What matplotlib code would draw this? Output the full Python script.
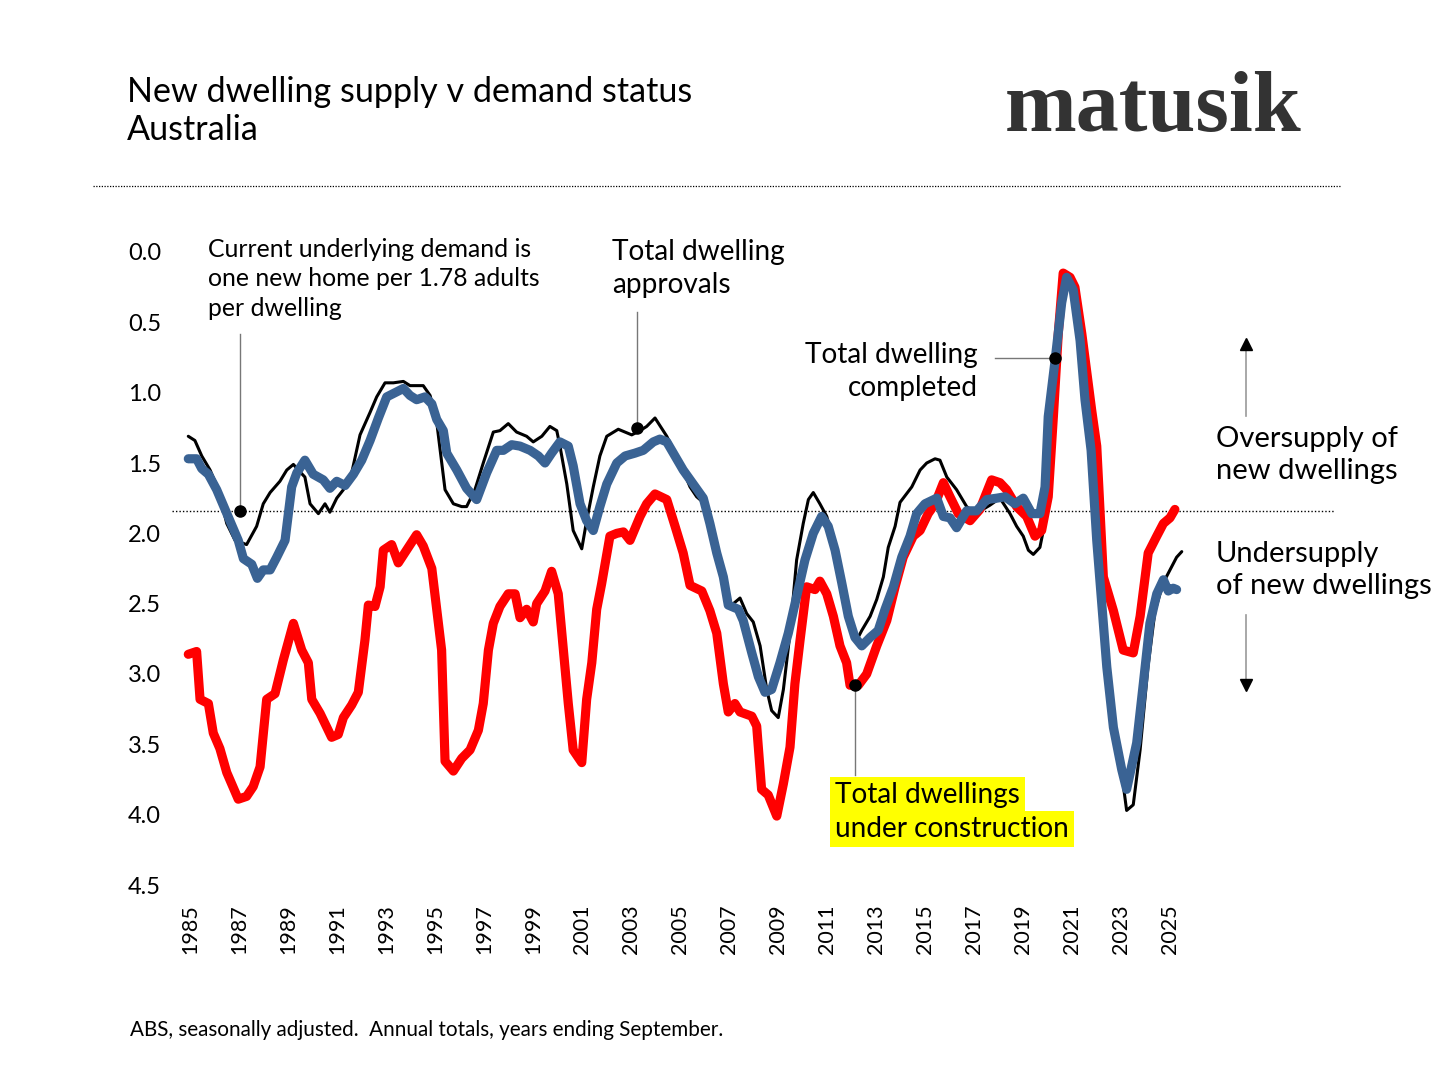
import matplotlib
matplotlib.use("Agg")
import matplotlib.pyplot as plt
from matplotlib.lines import Line2D
import numpy as np

plt.rcParams['font.family'] = ['Lato', 'DejaVu Sans']

# ---------------- data ----------------
years_labels = list(range(1985, 2026, 2))
y_ticks = [0.0, 0.5, 1.0, 1.5, 2.0, 2.5, 3.0, 3.5, 4.0, 4.5]
demand_level = 1.84

construction_x = [1984.93, 1985.27, 1985.41, 1985.75, 1985.95, 1986.22, 1986.50, 1986.97, 1987.31, 1987.58,
                  1987.86, 1988.13, 1988.47, 1988.81, 1989.22, 1989.56, 1989.83, 1989.97, 1990.31, 1990.78,
                  1991.05, 1991.26, 1991.60, 1991.87, 1992.14, 1992.28, 1992.55, 1992.76, 1992.89, 1993.23,
                  1993.50, 1994.25, 1994.52, 1994.87, 1995.27, 1995.41, 1995.75, 1996.09, 1996.43, 1996.77,
                  1996.97, 1997.18, 1997.38, 1997.65, 1997.99, 1998.27, 1998.47, 1998.74, 1999.01, 1999.15,
                  1999.49, 1999.76, 2000.03, 2000.24, 2000.44, 2000.64, 2000.99, 2001.19, 2001.40, 2001.60,
                  2001.80, 2002.14, 2002.42, 2002.69, 2002.96, 2003.37, 2003.64, 2003.98, 2004.46, 2004.80,
                  2005.13, 2005.41, 2005.89, 2006.22, 2006.50, 2006.77, 2006.97, 2007.24, 2007.45, 2007.93,
                  2008.13, 2008.33, 2008.60, 2008.95, 2009.22, 2009.49, 2009.69, 2009.90, 2010.17, 2010.51,
                  2010.71, 2010.99, 2011.26, 2011.53, 2011.80, 2011.94, 2012.28, 2012.62, 2013.03, 2013.44,
                  2013.78, 2014.11, 2014.52, 2014.80, 2015.13, 2015.41, 2015.75, 2016.02, 2016.36, 2016.84,
                  2017.24, 2017.72, 2018.06, 2018.33, 2018.74, 2019.15, 2019.49, 2019.76, 2020.03, 2020.24,
                  2020.44, 2020.64, 2020.92, 2021.12, 2021.40, 2021.80, 2022.01, 2022.28, 2022.69, 2023.09,
                  2023.50, 2023.78, 2024.11, 2024.46, 2024.73, 2025.00, 2025.20]
construction_y = [2.86, 2.84, 3.18, 3.21, 3.42, 3.53, 3.70, 3.89, 3.87, 3.80,
                  3.66, 3.18, 3.14, 2.90, 2.64, 2.83, 2.92, 3.18, 3.28, 3.45,
                  3.43, 3.31, 3.22, 3.13, 2.76, 2.51, 2.52, 2.38, 2.12, 2.08,
                  2.21, 2.01, 2.09, 2.25, 2.83, 3.62, 3.69, 3.60, 3.54, 3.40,
                  3.21, 2.83, 2.64, 2.52, 2.43, 2.43, 2.60, 2.54, 2.63, 2.50,
                  2.41, 2.27, 2.43, 2.83, 3.21, 3.54, 3.63, 3.18, 2.92, 2.54,
                  2.36, 2.02, 2.00, 1.99, 2.05, 1.88, 1.79, 1.72, 1.76, 1.95,
                  2.14, 2.37, 2.41, 2.55, 2.71, 3.07, 3.27, 3.21, 3.27, 3.30,
                  3.37, 3.82, 3.86, 4.01, 3.78, 3.52, 3.07, 2.76, 2.38, 2.40,
                  2.34, 2.43, 2.59, 2.80, 2.92, 3.08, 3.08, 3.00, 2.80, 2.62,
                  2.38, 2.17, 2.02, 1.98, 1.86, 1.79, 1.64, 1.74, 1.86, 1.91,
                  1.83, 1.62, 1.64, 1.69, 1.81, 1.88, 2.02, 1.98, 1.74, 1.17,
                  0.58, 0.15, 0.18, 0.25, 0.58, 1.12, 1.38, 2.31, 2.55, 2.83,
                  2.85, 2.59, 2.14, 2.02, 1.93, 1.89, 1.83]

completed_x = [1984.93, 1985.27, 1985.48, 1985.75, 1986.09, 1986.43, 1986.70, 1986.97, 1987.18, 1987.52,
               1987.75, 1987.99, 1988.27, 1988.54, 1988.88, 1989.15, 1989.36, 1989.69, 1990.03, 1990.44,
               1990.71, 1990.99, 1991.33, 1991.67, 1992.01, 1992.35, 1992.69, 1993.03, 1993.37, 1993.71,
               1993.98, 1994.25, 1994.59, 1994.87, 1995.07, 1995.34, 1995.48, 1995.89, 1996.29, 1996.70,
               1997.11, 1997.52, 1997.79, 1998.13, 1998.47, 1998.88, 1999.22, 1999.49, 1999.76, 2000.10,
               2000.44, 2000.64, 2000.92, 2001.19, 2001.46, 2001.73, 2002.01, 2002.42, 2002.76, 2003.16,
               2003.50, 2003.91, 2004.18, 2004.46, 2004.73, 2005.13, 2005.54, 2005.95, 2006.22, 2006.50,
               2006.77, 2006.97, 2007.38, 2007.58, 2007.93, 2008.20, 2008.47, 2008.74, 2009.08, 2009.42,
               2009.76, 2010.10, 2010.44, 2010.78, 2011.05, 2011.33, 2011.60, 2011.87, 2012.14, 2012.42,
               2012.76, 2013.09, 2013.37, 2013.71, 2014.05, 2014.39, 2014.66, 2015.00, 2015.48, 2015.75,
               2016.02, 2016.29, 2016.70, 2017.11, 2017.52, 2017.93, 2018.27, 2018.67, 2019.01, 2019.36,
               2019.69, 2019.90, 2020.03, 2020.31, 2020.58, 2020.78, 2021.05, 2021.33, 2021.53, 2021.78,
               2022.01, 2022.42, 2022.69, 2023.03, 2023.23, 2023.64, 2023.91, 2024.18, 2024.46, 2024.73,
               2024.93, 2025.13, 2025.27]
completed_y = [1.47, 1.47, 1.54, 1.58, 1.69, 1.83, 1.94, 2.05, 2.18, 2.22,
               2.32, 2.26, 2.26, 2.17, 2.05, 1.67, 1.57, 1.48, 1.58, 1.62,
               1.68, 1.63, 1.66, 1.58, 1.48, 1.34, 1.18, 1.03, 1.00, 0.97,
               1.02, 1.05, 1.03, 1.08, 1.19, 1.27, 1.43, 1.55, 1.68, 1.76,
               1.57, 1.41, 1.41, 1.37, 1.38, 1.41, 1.45, 1.50, 1.43, 1.35,
               1.38, 1.52, 1.79, 1.91, 1.98, 1.81, 1.65, 1.50, 1.45, 1.43,
               1.41, 1.35, 1.33, 1.35, 1.43, 1.55, 1.65, 1.75, 1.93, 2.14,
               2.31, 2.51, 2.54, 2.62, 2.85, 3.02, 3.13, 3.11, 2.92, 2.71,
               2.45, 2.19, 2.00, 1.88, 1.95, 2.12, 2.35, 2.59, 2.74, 2.80,
               2.74, 2.69, 2.54, 2.38, 2.17, 2.02, 1.86, 1.79, 1.75, 1.88,
               1.89, 1.96, 1.84, 1.84, 1.76, 1.75, 1.74, 1.79, 1.75, 1.86,
               1.86, 1.67, 1.17, 0.77, 0.36, 0.18, 0.27, 0.63, 1.05, 1.41,
               2.05, 2.95, 3.38, 3.68, 3.82, 3.49, 3.07, 2.64, 2.43, 2.33,
               2.41, 2.39, 2.40]

approvals_x = [1984.93, 1985.20, 1985.48, 1985.82, 1986.16, 1986.50, 1986.84, 1987.31, 1987.72, 1987.99,
               1988.27, 1988.67, 1988.95, 1989.22, 1989.42, 1989.69, 1989.90, 1990.24, 1990.51, 1990.71,
               1990.99, 1991.26, 1991.60, 1991.94, 1992.35, 1992.62, 1992.96, 1993.30, 1993.71, 1993.98,
               1994.52, 1994.80, 1995.07, 1995.41, 1995.75, 1996.09, 1996.29, 1996.63, 1996.97, 1997.38,
               1997.65, 1997.99, 1998.33, 1998.74, 1999.01, 1999.36, 1999.69, 1999.97, 2000.10, 2000.38,
               2000.64, 2000.99, 2001.19, 2001.46, 2001.73, 2002.01, 2002.48, 2003.03, 2003.37, 2003.64,
               2003.98, 2004.46, 2005.00, 2005.41, 2005.68, 2005.95, 2006.22, 2006.50, 2006.77, 2007.04,
               2007.45, 2007.72, 2007.99, 2008.27, 2008.54, 2008.74, 2009.01, 2009.22, 2009.49, 2009.76,
               2010.03, 2010.24, 2010.44, 2010.71, 2010.99, 2011.33, 2011.73, 2012.21, 2012.42, 2012.76,
               2013.03, 2013.30, 2013.50, 2013.78, 2013.98, 2014.46, 2014.80, 2015.07, 2015.41, 2015.61,
               2015.89, 2016.29, 2016.70, 2017.07, 2017.65, 2018.06, 2018.47, 2018.74, 2019.01, 2019.22,
               2019.42, 2019.69, 2019.83, 2020.02, 2020.31, 2020.59, 2020.80, 2021.04, 2021.33, 2021.53,
               2021.78, 2022.02, 2022.43, 2022.71, 2023.04, 2023.23, 2023.50, 2023.78, 2024.10, 2024.39,
               2024.73, 2025.00, 2025.27, 2025.48]
approvals_y = [1.31, 1.34, 1.45, 1.55, 1.69, 1.93, 2.05, 2.08, 1.95, 1.79,
               1.71, 1.63, 1.55, 1.51, 1.55, 1.60, 1.79, 1.86, 1.79, 1.85,
               1.75, 1.69, 1.57, 1.30, 1.14, 1.03, 0.93, 0.93, 0.92, 0.95,
               0.95, 1.02, 1.21, 1.69, 1.79, 1.81, 1.81, 1.69, 1.50, 1.28,
               1.27, 1.22, 1.28, 1.31, 1.35, 1.31, 1.24, 1.27, 1.38, 1.65,
               1.98, 2.11, 1.91, 1.67, 1.45, 1.31, 1.26, 1.30, 1.27, 1.24,
               1.18, 1.31, 1.50, 1.67, 1.74, 1.78, 1.95, 2.14, 2.35, 2.52,
               2.46, 2.57, 2.63, 2.80, 3.11, 3.26, 3.31, 3.11, 2.71, 2.19,
               1.93, 1.76, 1.71, 1.79, 1.88, 2.10, 2.45, 2.76, 2.69, 2.59,
               2.47, 2.31, 2.10, 1.95, 1.78, 1.67, 1.55, 1.50, 1.47, 1.48,
               1.60, 1.69, 1.81, 1.86, 1.80, 1.75, 1.86, 1.95, 2.02, 2.12,
               2.15, 2.10, 1.98, 1.20, 0.75, 0.33, 0.15, 0.22, 0.60, 1.03,
               1.45, 2.10, 2.95, 3.40, 3.72, 3.97, 3.93, 3.54, 2.95, 2.55,
               2.35, 2.26, 2.17, 2.13]

# annotation anchor points
ann_demand = (1987.04, demand_level)
ann_approvals = (2003.24, 1.25)
ann_completed = (2020.31, 0.75)
ann_construction = (2012.14, 3.08)

# ---------------- figure ----------------
W, H = 1456, 1091
fig = plt.figure(figsize=(W / 100, H / 100), dpi=100)
fig.patch.set_facecolor('white')

def fx(x):
    return x / W

def fy(y):
    return 1 - y / H

ax_left, ax_right, ax_top, ax_bottom = 172, 1335, 252, 885
ax = fig.add_axes([fx(ax_left), fy(ax_bottom), (ax_right - ax_left) / W, (ax_bottom - ax_top) / H])
ax.set_xlim(1985 + (ax_left - 190) / 24.5, 1985 + (ax_right - 190) / 24.5)
ax.set_ylim(4.5, 0)
for s in ax.spines.values():
    s.set_visible(False)
ax.set_yticks(y_ticks)
ax.set_yticklabels([f"{v:.1f}" for v in y_ticks], fontsize=17)
ax.set_xticks(years_labels)
ax.set_xticklabels([str(y) for y in years_labels], rotation=90, fontsize=15.5)
ax.tick_params(axis='y', length=0, pad=8)
ax.tick_params(axis='x', length=0, pad=14)
ax.set_facecolor('white')

ax.axhline(demand_level, color='black', lw=1.0, ls=(0, (1, 1.5)), zorder=1)

line_kw = dict(solid_capstyle='round', solid_joinstyle='round')
ax.plot(approvals_x, approvals_y, color='black', lw=2.2, zorder=2, **line_kw)
ax.plot(construction_x, construction_y, color='#FF0000', lw=6.6, zorder=3, **line_kw)
ax.plot(completed_x, completed_y, color='#3A6394', lw=6.6, zorder=4, **line_kw)

# annotation markers & leader lines
lead = dict(color='#777777', lw=1.0, zorder=5)
ax.plot([ann_demand[0]] * 2, [0.58, ann_demand[1]], **lead)
ax.plot([ann_approvals[0]] * 2, [0.43, ann_approvals[1]], **lead)
ax.plot([ann_completed[0] - 2.45, ann_completed[0]], [ann_completed[1]] * 2, **lead)
ax.plot([ann_construction[0]] * 2, [ann_construction[1], 3.72], **lead)
for p in (ann_demand, ann_approvals, ann_completed, ann_construction):
    ax.plot([p[0]], [p[1]], 'o', color='black', ms=8, zorder=6)

# annotation texts
fig.text(fx(208), fy(238), "Current underlying demand is\none new home per 1.78 adults\nper dwelling",
         fontsize=17.8, va='top', ha='left', linespacing=1.33)
fig.text(fx(612), fy(239), "Total dwelling\napprovals", fontsize=20.2, va='top', ha='left', linespacing=1.32)
fig.text(fx(978), fy(342), "Total dwelling\ncompleted", fontsize=20.2, va='top', ha='right', linespacing=1.32)
fig.text(fx(835), fy(795), "Total dwellings", fontsize=20.2, va='center', ha='left',
         bbox=dict(facecolor='#FFFF00', edgecolor='none', pad=3.5))
fig.text(fx(835), fy(829), "under construction", fontsize=20.2, va='center', ha='left',
         bbox=dict(facecolor='#FFFF00', edgecolor='none', pad=3.5))

fig.text(fx(1216), fy(426), "Oversupply of\nnew dwellings", fontsize=21, va='top', ha='left', linespacing=1.3)
fig.text(fx(1216), fy(541), "Undersupply\nof new dwellings", fontsize=21, va='top', ha='left', linespacing=1.3)

# supply arrows
fig.add_artist(Line2D([fx(1246), fx(1246)], [fy(416), fy(348)], color='#999999', lw=1.2))
fig.add_artist(Line2D([fx(1246)], [fy(344)], marker='^', color='black', ms=8))
fig.add_artist(Line2D([fx(1246), fx(1246)], [fy(615), fy(682)], color='#999999', lw=1.2))
fig.add_artist(Line2D([fx(1246)], [fy(685)], marker='v', color='black', ms=8))

# header
fig.text(fx(127), fy(102), "New dwelling supply v demand status", fontsize=24.6, va='baseline', ha='left')
fig.text(fx(127), fy(140), "Australia", fontsize=24.6, va='baseline', ha='left')
fig.text(fx(1005), fy(131), "matusik", fontsize=62, fontweight='bold', color='#333333',
         family='Liberation Serif', va='baseline', ha='left')
fig.add_artist(Line2D([fx(93), fx(1340)], [fy(186), fy(186)], color='black', lw=0.9, ls=(0, (1, 1.2))))

# footer
fig.text(fx(130), fy(1030), "ABS, seasonally adjusted.  Annual totals, years ending September.",
         fontsize=14.9, va='center', ha='left')

fig.savefig('out.png', dpi=100, facecolor='white')
